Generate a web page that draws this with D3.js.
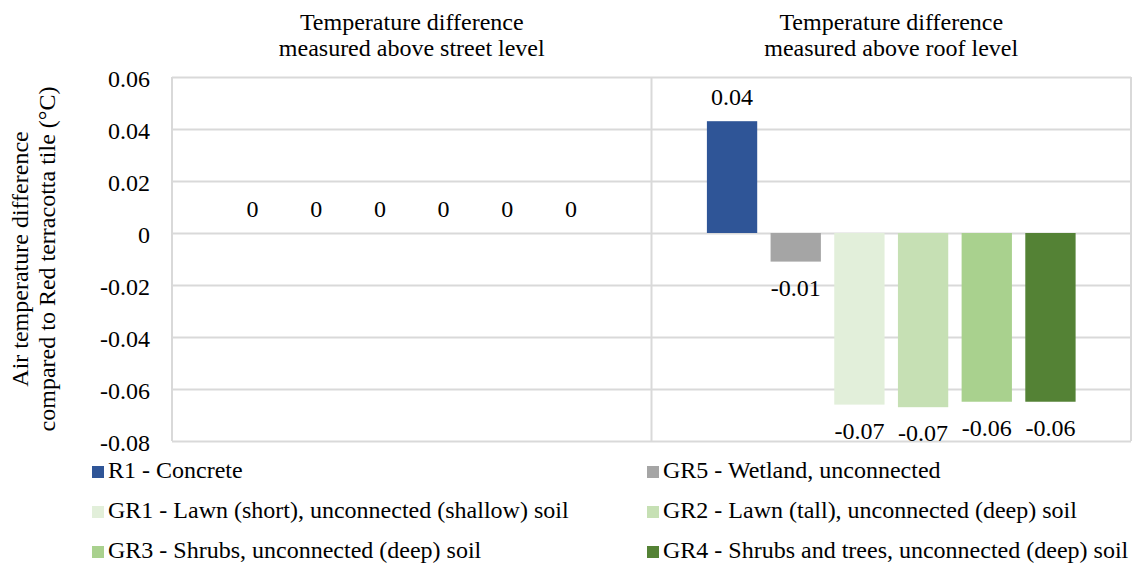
<!DOCTYPE html>
<html>
<head>
<meta charset="utf-8">
<script src="https://cdn.jsdelivr.net/npm/d3@7"></script>
<style>
  html, body { margin: 0; padding: 0; background: #fff; }
  svg { display: block; }
  text { font-family: "Liberation Serif", "Times New Roman", serif; fill: #000; }
</style>
</head>
<body>
<svg id="chart" width="1134" height="565"></svg>
<script>
// Measurement locations (two panels) – each title split over two lines
const panels = ["street", "roof"];
const panelTitles = [
  ["Temperature difference", "measured above street level"],
  ["Temperature difference", "measured above roof level"]
];

// Roof types compared against the red terracotta tile reference
const series = ["R1", "GR5", "GR1", "GR2", "GR3", "GR4"];
const seriesNames = [
  "R1 - Concrete",
  "GR5 - Wetland, unconnected",
  "GR1 - Lawn (short), unconnected (shallow) soil",
  "GR2 - Lawn (tall), unconnected (deep) soil",
  "GR3 - Shrubs, unconnected (deep) soil",
  "GR4 - Shrubs and trees, unconnected (deep) soil"
];
const seriesColors = ["#2F5597", "#A5A5A5", "#E2EFDA", "#C6E0B4", "#A9D18E", "#548235"];

// Air temperature difference (°C) per series, for each panel
const streetValues = [0, 0, 0, 0, 0, 0];
const roofValues = [0.043, -0.011, -0.066, -0.067, -0.0649, -0.0649];

// Y axis ticks
const yTicks = [0.06, 0.04, 0.02, 0, -0.02, -0.04, -0.06, -0.08];
const yTitle = ["Air temperature difference", "compared to Red terracotta tile (°C)"];

const svg = d3.select("#chart");
const plot = { left: 172, right: 1131, top: 77, bottom: 441 };
const gridColor = "#D9D9D9";
const fontSize = "24px";
const serif = "'Liberation Serif', 'Times New Roman', serif";

// Plain hyphen for negatives, "0" for zero
const fmt = v => v === 0 ? "0" : d3.format(".2f")(v).replace("\u2212", "-");

const y = d3.scaleLinear().domain([-0.08, 0.06]).range([plot.bottom, plot.top]);
const x0 = d3.scaleBand().domain(panels).range([plot.left, plot.right]).padding(0);
const x1 = d3.scaleBand().domain(series).range([0, x0.bandwidth()])
  .paddingInner(0.21).paddingOuter(0.87);

const valuesByPanel = { street: streetValues, roof: roofValues };

// Horizontal gridlines with tick labels
const yAxis = d3.axisLeft(y).tickValues(yTicks).tickSize(-(plot.right - plot.left))
  .tickFormat(fmt);
const gy = svg.append("g").attr("transform", `translate(${plot.left},0)`).call(yAxis);
gy.attr("font-family", serif).attr("font-size", fontSize);
gy.select(".domain").remove();
gy.selectAll(".tick line").attr("stroke", gridColor).attr("stroke-width", 2);
gy.selectAll(".tick text")
  .attr("x", -22).attr("dy", null).attr("y", 9)
  .style("font-family", serif)
  .style("font-size", fontSize)
  .attr("fill", "#000");

// Vertical category boundaries
const bounds = panels.map(p => x0(p)).concat([x0(panels[panels.length - 1]) + x0.bandwidth()]);
svg.append("g").selectAll("line").data(bounds).join("line")
  .attr("x1", d => d).attr("x2", d => d)
  .attr("y1", plot.top).attr("y2", plot.bottom)
  .attr("stroke", gridColor).attr("stroke-width", 2);

// Bars and data labels
panels.forEach(p => {
  const g = svg.append("g").attr("transform", `translate(${x0(p)},0)`);
  const rows = series.map((s, i) => ({ s, v: valuesByPanel[p][i], c: seriesColors[i] }));
  g.selectAll("rect").data(rows).join("rect")
    .attr("x", d => x1(d.s))
    .attr("width", x1.bandwidth())
    .attr("y", d => y(Math.max(0, d.v)))
    .attr("height", d => Math.abs(y(d.v) - y(0)))
    .attr("fill", d => d.c);
  g.selectAll("text.lbl").data(rows).join("text")
    .attr("class", "lbl")
    .attr("x", d => x1(d.s) + x1.bandwidth() / 2)
    .attr("y", d => d.v >= 0 ? y(d.v) - 16 : y(d.v) + 34)
    .attr("text-anchor", "middle")
    .style("font-family", serif)
    .style("font-size", fontSize)
    .text(d => fmt(d.v));
});

// Panel titles
panels.forEach((p, i) => {
  const cx = x0(p) + x0.bandwidth() / 2;
  svg.append("text").attr("x", cx).attr("y", 29.5).attr("text-anchor", "middle")
    .style("font-size", fontSize).text(panelTitles[i][0]);
  svg.append("text").attr("x", cx).attr("y", 55.5).attr("text-anchor", "middle")
    .style("font-size", fontSize).text(panelTitles[i][1]);
});

// Y axis title
const cy = (plot.top + plot.bottom) / 2;
[28, 55].forEach((bx, i) => {
  svg.append("text")
    .attr("transform", `translate(${bx},${cy}) rotate(-90)`)
    .attr("text-anchor", "middle")
    .style("font-size", fontSize)
    .text(yTitle[i]);
});

// Legend: two columns, three rows
const legendCols = [92, 647];
const legendRows = [478, 518, 558];
const lg = svg.append("g");
series.forEach((s, i) => {
  const col = i % 2, row = Math.floor(i / 2);
  const gx = legendCols[col], by = legendRows[row];
  lg.append("rect").attr("x", gx).attr("y", by - 12).attr("width", 12).attr("height", 12)
    .attr("fill", seriesColors[i]);
  lg.append("text").attr("x", gx + 16).attr("y", by)
    .style("font-size", fontSize).text(seriesNames[i]);
});
</script>
</body>
</html>
